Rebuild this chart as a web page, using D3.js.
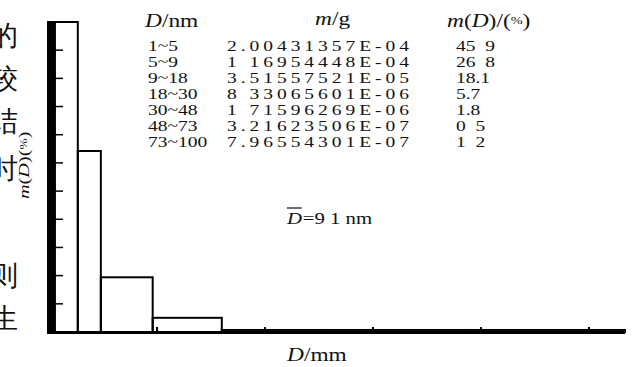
<!DOCTYPE html>
<html>
<head>
<meta charset="utf-8">
<script src="https://cdn.jsdelivr.net/npm/d3@7"></script>
<style>
  html, body { margin: 0; padding: 0; background: #fff; }
  svg { display: block; }
  text { font-family: "Liberation Serif", "DejaVu Serif", serif; fill: #111; }
</style>
</head>
<body>
<div id="chart"></div>
<script>
// size bins (nm) and mass share per bin
const binEdges = [1, 5, 9, 18, 30, 48, 73, 100];
const massShare = [45.9, 26.8, 8.1, 2.1, 0.3, 0.3, 0.3];

// table in the upper right, as printed
const rangeLabels = ['1~5', '5~9', '9~18', '18~30', '30~48', '48~73', '73~100'];
const massLabels = ['2.00431357E-04', '1 16954448E-04', '3.51557521E-05', '8 33065601E-06',
                    '1 71596269E-06', '3.21623506E-07', '7.96554301E-07'];
const shareLabels = ['45 9', '26 8', '18.1', '5.7', '1.8', '0 5', '1 2'];

// axis ticks
const yTicks = [0, 4.17, 8.35, 12.52, 16.69, 20.86, 25.04, 29.21, 33.38, 37.55, 41.73, 45.9];
const xTicks = [18.75, 37.5, 56.25, 75, 93.75];

// cut-off characters of the page text at the left edge
const sideChars = ['的', '较', '结', '时', '则', '生'];
const sideCharY = [45, 88, 131, 178, 285, 328];

const width = 632, height = 367;
const svg = d3.select('#chart').append('svg')
  .attr('width', width)
  .attr('height', height);

svg.append('rect').attr('width', width).attr('height', height).attr('fill', '#fff');

const x = d3.scaleLinear().domain([0, 100]).range([49, 625]);
const y = d3.scaleLinear().domain([0, 45.9]).range([332, 22]);

// bars (outlined, white inside)
const bins = massShare.map((v, i) => ({x0: binEdges[i], x1: binEdges[i + 1], v}));
svg.append('g')
  .selectAll('rect')
  .data(bins)
  .join('rect')
  .attr('x', d => x(d.x0))
  .attr('y', d => y(d.v))
  .attr('width', d => x(d.x1) - x(d.x0))
  .attr('height', d => y(0) - y(d.v))
  .attr('fill', 'none')
  .attr('stroke', '#000')
  .attr('stroke-width', 2);

// thick y axis, filled up to the first bar's edge
svg.append('rect')
  .attr('x', 47).attr('y', y(45.9) - 1)
  .attr('width', x(binEdges[0]) - 47 + 1)
  .attr('height', y(0) - y(45.9) + 3)
  .attr('fill', '#000');

// inward y ticks
svg.append('g')
  .selectAll('line')
  .data(yTicks)
  .join('line')
  .attr('x1', 55).attr('x2', 63)
  .attr('y1', d => y(d)).attr('y2', d => y(d))
  .attr('stroke', '#000').attr('stroke-width', 1.5);

// baseline
svg.append('line')
  .attr('x1', 47).attr('x2', x(100))
  .attr('y1', y(0) + 0.5).attr('y2', y(0) + 0.5)
  .attr('stroke', '#000').attr('stroke-width', 3);

// small x ticks
svg.append('g')
  .selectAll('line')
  .data(xTicks)
  .join('line')
  .attr('x1', d => x(d)).attr('x2', d => x(d))
  .attr('y1', y(0)).attr('y2', y(0) - 5)
  .attr('stroke', '#000').attr('stroke-width', 2);

// axis labels
const yLabel = svg.append('text')
  .attr('transform', 'translate(29,199) rotate(-90) scale(1.35,1)')
  .attr('font-size', 15);
yLabel.append('tspan').attr('font-style', 'italic').text('m');
yLabel.append('tspan').text('(');
yLabel.append('tspan').attr('font-style', 'italic').text('D');
yLabel.append('tspan').text(')(');
yLabel.append('tspan').attr('font-size', 10).attr('dy', -2).text('%');
yLabel.append('tspan').attr('dy', 2).text(')');

const xLabel = svg.append('text')
  .attr('transform', 'translate(287,361) scale(1.3,1)')
  .attr('font-size', 18);
xLabel.append('tspan').attr('font-style', 'italic').text('D');
xLabel.append('tspan').text('/mm');

// table headers
const h1 = svg.append('text').attr('transform', 'translate(145,27) scale(1.3,1)').attr('font-size', 18);
h1.append('tspan').attr('font-style', 'italic').text('D');
h1.append('tspan').text('/nm');

const h2 = svg.append('text').attr('transform', 'translate(315,25) scale(1.3,1)').attr('font-size', 18);
h2.append('tspan').attr('font-style', 'italic').text('m');
h2.append('tspan').text('/g');

const h3 = svg.append('text').attr('transform', 'translate(447,27) scale(1.3,1)').attr('font-size', 18);
h3.append('tspan').attr('font-style', 'italic').text('m');
h3.append('tspan').text('(');
h3.append('tspan').attr('font-style', 'italic').text('D');
h3.append('tspan').text(')/(');
h3.append('tspan').attr('font-size', 11).attr('dy', -3).text('%');
h3.append('tspan').attr('dy', 3).text(')');

// table rows
const rowY = d3.scaleLinear().domain([0, 1]).range([51, 67]);
const rows = svg.append('g').attr('font-size', 15);
rows.selectAll('text.range')
  .data(rangeLabels)
  .join('text')
  .attr('class', 'range')
  .attr('transform', (d, i) => `translate(148,${rowY(i)}) scale(1.3,1)`)
  .text(d => d);
rows.selectAll('text.mass')
  .data(massLabels)
  .join('text')
  .attr('class', 'mass')
  .attr('transform', (d, i) => `translate(227,${rowY(i)}) scale(1.3,1)`)
  .attr('textLength', 182 / 1.3)
  .attr('lengthAdjust', 'spacing')
  .text(d => d);
rows.selectAll('text.share')
  .data(shareLabels)
  .join('text')
  .attr('class', 'share')
  .attr('transform', (d, i) => `translate(456,${rowY(i)}) scale(1.3,1)`)
  .attr('xml:space', 'preserve')
  .text(d => d.replace(' ', '\u2002'));

// mean diameter note, D with a bar over it
const meanD = svg.append('text')
  .attr('transform', 'translate(287,224) scale(1.3,1)')
  .attr('font-size', 16)
  .attr('font-style', 'italic')
  .text('D');
const dBox = meanD.node().getBBox();
svg.append('line')
  .attr('x1', 287 + dBox.x * 1.3 + 1).attr('x2', 287 + (dBox.x + dBox.width) * 1.3 - 1)
  .attr('y1', 208).attr('y2', 208)
  .attr('stroke', '#111').attr('stroke-width', 1.2);
svg.append('text')
  .attr('transform', `translate(${287 + (dBox.x + dBox.width) * 1.3},224) scale(1.3,1)`)
  .attr('font-size', 16)
  .attr('xml:space', 'preserve')
  .text('=9 1 nm');

// clipped page text at the far left
svg.append('g')
  .selectAll('text')
  .data(sideChars)
  .join('text')
  .attr('x', -10)
  .attr('y', (d, i) => sideCharY[i])
  .attr('font-size', 28)
  .attr('font-family', '"Noto Sans CJK SC", sans-serif')
  .text(d => d);
</script>
</body>
</html>
